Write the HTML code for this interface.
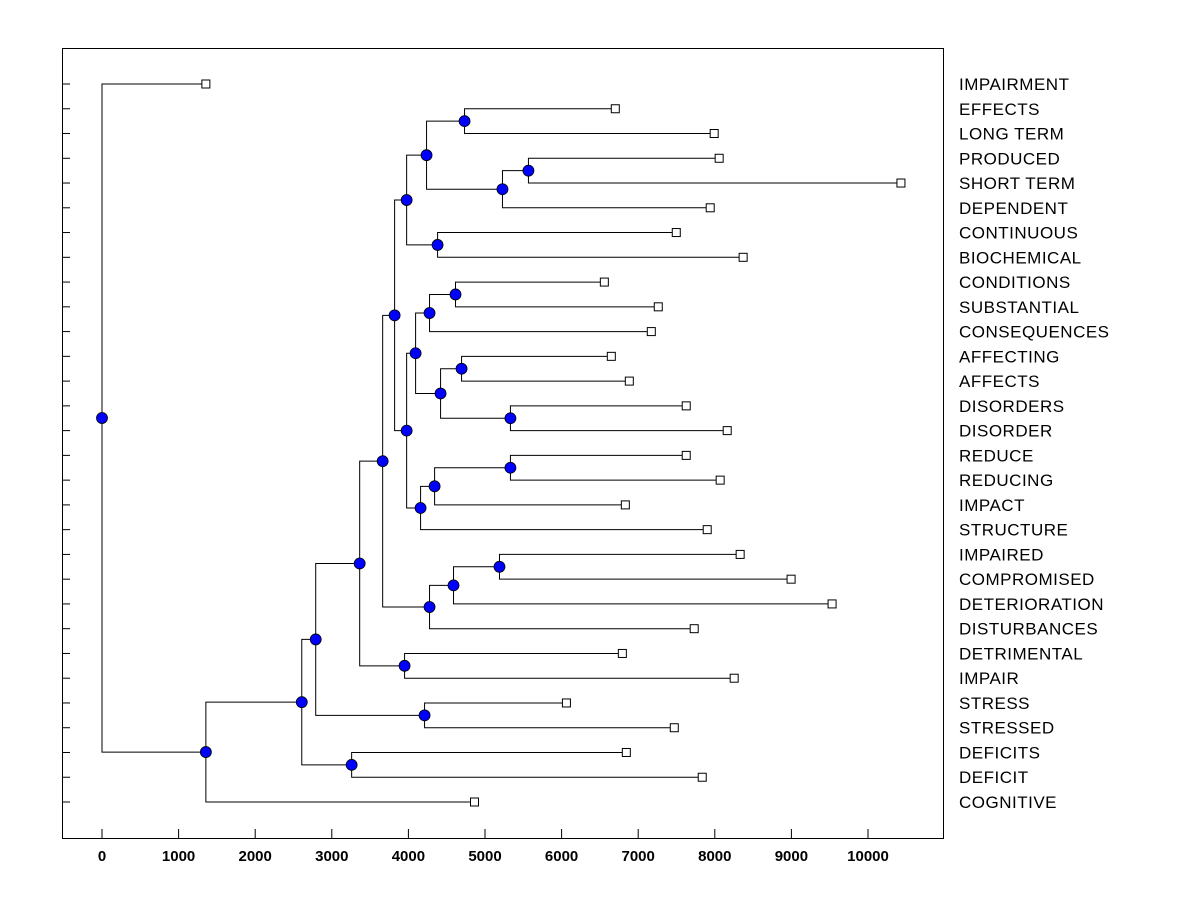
<!DOCTYPE html>
<html><head><meta charset="utf-8"><style>
html,body{margin:0;padding:0;background:#fff;}
svg{display:block;font-family:"Liberation Sans",Arial,sans-serif;}
</style></head><body>
<svg id="chart" width="1200" height="900" viewBox="0 0 1200 900" xmlns="http://www.w3.org/2000/svg">
<rect x="62.5" y="48.5" width="881" height="790" fill="none" stroke="#000" stroke-width="1"/>
<g id="g"></g>
</svg>
<script>
const leafNames = ["IMPAIRMENT","EFFECTS","LONG TERM","PRODUCED","SHORT TERM","DEPENDENT","CONTINUOUS","BIOCHEMICAL","CONDITIONS","SUBSTANTIAL","CONSEQUENCES","AFFECTING","AFFECTS","DISORDERS","DISORDER","REDUCE","REDUCING","IMPACT","STRUCTURE","IMPAIRED","COMPROMISED","DETERIORATION","DISTURBANCES","DETRIMENTAL","IMPAIR","STRESS","STRESSED","DEFICITS","DEFICIT","COGNITIVE"];
const leafValues = [1356,6701,7992,8057,10430,7940,7497,8370,6558,7262,7171,6649,6884,7627,8162,7627,8070,6832,7901,8331,8996,9531,7731,6793,8253,6063,7471,6845,7836,4863];
// merges: [id, childA, childB, height]; children are leaf names or node ids
const merges = [
 ["Q","EFFECTS","LONG TERM",4733],
 ["S","PRODUCED","SHORT TERM",5567],
 ["R","S","DEPENDENT",5228],
 ["O","Q","R",4237],
 ["P","CONTINUOUS","BIOCHEMICAL",4381],
 ["M","O","P",3977],
 ["X","CONDITIONS","SUBSTANTIAL",4615],
 ["V","X","CONSEQUENCES",4276],
 ["Y","AFFECTING","AFFECTS",4694],
 ["Z","DISORDERS","DISORDER",5332],
 ["W","Y","Z",4420],
 ["T","V","W",4094],
 ["AB","REDUCE","REDUCING",5332],
 ["AA","AB","IMPACT",4342],
 ["U","AA","STRUCTURE",4159],
 ["N","T","U",3977],
 ["I","M","N",3820],
 ["L","IMPAIRED","COMPROMISED",5189],
 ["K","L","DETERIORATION",4589],
 ["J","K","DISTURBANCES",4276],
 ["G","I","J",3664],
 ["H","DETRIMENTAL","IMPAIR",3950],
 ["E","G","H",3364],
 ["F","STRESS","STRESSED",4211],
 ["C","E","F",2790],
 ["D","DEFICITS","DEFICIT",3259],
 ["B","C","D",2608],
 ["A","B","COGNITIVE",1356],
 ["ROOT","IMPAIRMENT","A",0]
];
const xTicks = [0,1000,2000,3000,4000,5000,6000,7000,8000,9000,10000];

const NS="http://www.w3.org/2000/svg";
const g=document.getElementById('g');
const xs=v=>102+v*0.0766;
const ys=i=>84+i*(718/29);
function mk(tag,attrs){const e=document.createElementNS(NS,tag);for(const k in attrs)e.setAttribute(k,attrs[k]);g.appendChild(e);return e;}

const pos={};
leafNames.forEach((n,i)=>{pos[n]={x:xs(leafValues[i]),y:ys(i),leaf:true};});
leafNames.forEach((n,i)=>{
  const t=mk('line',{x1:62,x2:70,y1:ys(i),y2:ys(i),stroke:'#000'});
  
  
});
xTicks.forEach(v=>{
  const t=mk('line',{x1:xs(v),x2:xs(v),y1:829,y2:838,stroke:'#000'});
  
  
  const l=mk('text',{x:xs(v),y:861,'text-anchor':'middle','font-size':'15','font-weight':'bold'});
  l.textContent=v;
  
  
});
const nodes=[];
merges.forEach(m=>{
  const a=pos[m[1]],b=pos[m[2]],x=xs(m[3]);
  const y=(a.y+b.y)/2;
  pos[m[0]]={x:x,y:y};
  const p=mk('path',{d:`M${a.x} ${a.y}H${x}V${b.y}H${b.x}`,fill:'none',stroke:'#000','stroke-width':1});
  
  
  nodes.push([x,y,m[0]]);
});
leafNames.forEach((n,i)=>{
  const p=pos[n];
  const r=mk('rect',{x:p.x-4,y:p.y-4,width:8,height:8,fill:'#fff',stroke:'#000'});
  
  
  const l=mk('text',{x:959,y:p.y+6,'font-size':'17','letter-spacing':'0.5'});
  l.textContent=n;
  
  
});
nodes.forEach(nd=>{
  const c=mk('circle',{cx:nd[0],cy:nd[1],r:5.5,fill:'#0000ff',stroke:'#000','stroke-width':0.8});
  
  
});
</script>
</body></html>
